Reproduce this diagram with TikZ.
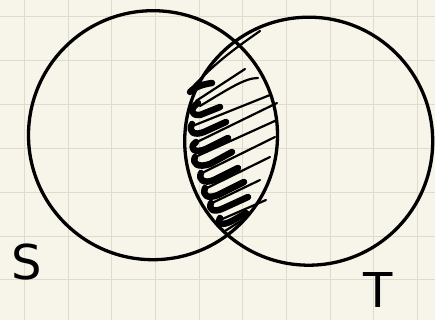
\documentclass[tikz,border=0pt]{standalone}
\usepackage{fontspec}
\newfontfamily\handfont{DejaVu Sans}
\definecolor{paper}{HTML}{F7F5E9}
\definecolor{gridc}{HTML}{DEDBCD}
\begin{document}
\begin{tikzpicture}[x=1pt,y=-1pt,
  ring/.style={line width=3.3pt, draw=black},
  hatchthin/.style={line width=2.2pt, line cap=round, line join=round},
  hatchthick/.style={line width=6.5pt, line cap=round, line join=round},
  letter/.style={font=\handfont\fontsize{48}{48}\selectfont, inner sep=0pt, anchor=center}]
\fill[paper] (0,0) rectangle (435,320);
\useasboundingbox (0,0) rectangle (435,320);
% grid
\foreach \gx in {24.3,68,111.7,155.4,199.1,242.8,286.5,330.2,373.9,417.6}
  \draw[gridc, line width=1pt] (\gx,0) -- (\gx,320);
\foreach \gy in {17,60.8,104.6,148.4,192.2,236,279.8}
  \draw[gridc, line width=1pt] (0,\gy) -- (435,\gy);
% circles
\node[circle, ring, minimum size=249pt, inner sep=0pt] (S) at (153,135.2) {};
\node[circle, ring, minimum size=248pt, inner sep=0pt] (T) at (308.7,141.2) {};
% hatching: thin diagonals
\draw[hatchthin] (189,91) .. controls (215,62) and (240,45) .. (260,31);
\draw[hatchthin] (196,101) -- (245,69);
\draw[hatchthin] (200,106) .. controls (230,88) and (245,78) .. (258,78);
\draw[hatchthin] (190,127) -- (270,95);
\draw[hatchthin] (195,143) -- (277,103);
\draw[hatchthin] (193,158) -- (277,120);
\draw[hatchthin] (200,174) -- (275,137);
\draw[hatchthin] (203,190) -- (270,157);
\draw[hatchthin] (210,204) -- (260,180);
\draw[hatchthin] (220,220) -- (266,200);
\draw[hatchthin] (225,231) -- (247,217);
% hatching: thick scribble strokes along the left side
\draw[hatchthick] (190,92) .. controls (196,86) and (205,84) .. (212,83);
\draw[hatchthick] (198,103) .. controls (190,108) and (190,116) .. (200,115) -- (220,107);
\draw[hatchthick] (192,124) .. controls (188,132) and (194,136) .. (204,132) -- (226,122);
\draw[hatchthick] (196,142) .. controls (188,148) and (194,154) .. (206,149) -- (228,138);
\draw[hatchthick] (195,157) .. controls (192,164) and (198,168) .. (210,164) -- (232,152);
\draw[hatchthick] (201,173) .. controls (198,180) and (204,184) .. (214,180) -- (238,168);
\draw[hatchthick] (205,188) .. controls (202,196) and (208,199) .. (218,195) -- (244,182);
\draw[hatchthick] (211,203) .. controls (208,210) and (214,213) .. (224,208) -- (248,197);
\draw[hatchthick] (220,218) .. controls (217,224) and (222,226) .. (232,221) -- (246,213);
% labels
\node[letter] (labS) at (27,262) {S};
\node[letter] (labT) at (378,290) {T};
\end{tikzpicture}
\end{document}
